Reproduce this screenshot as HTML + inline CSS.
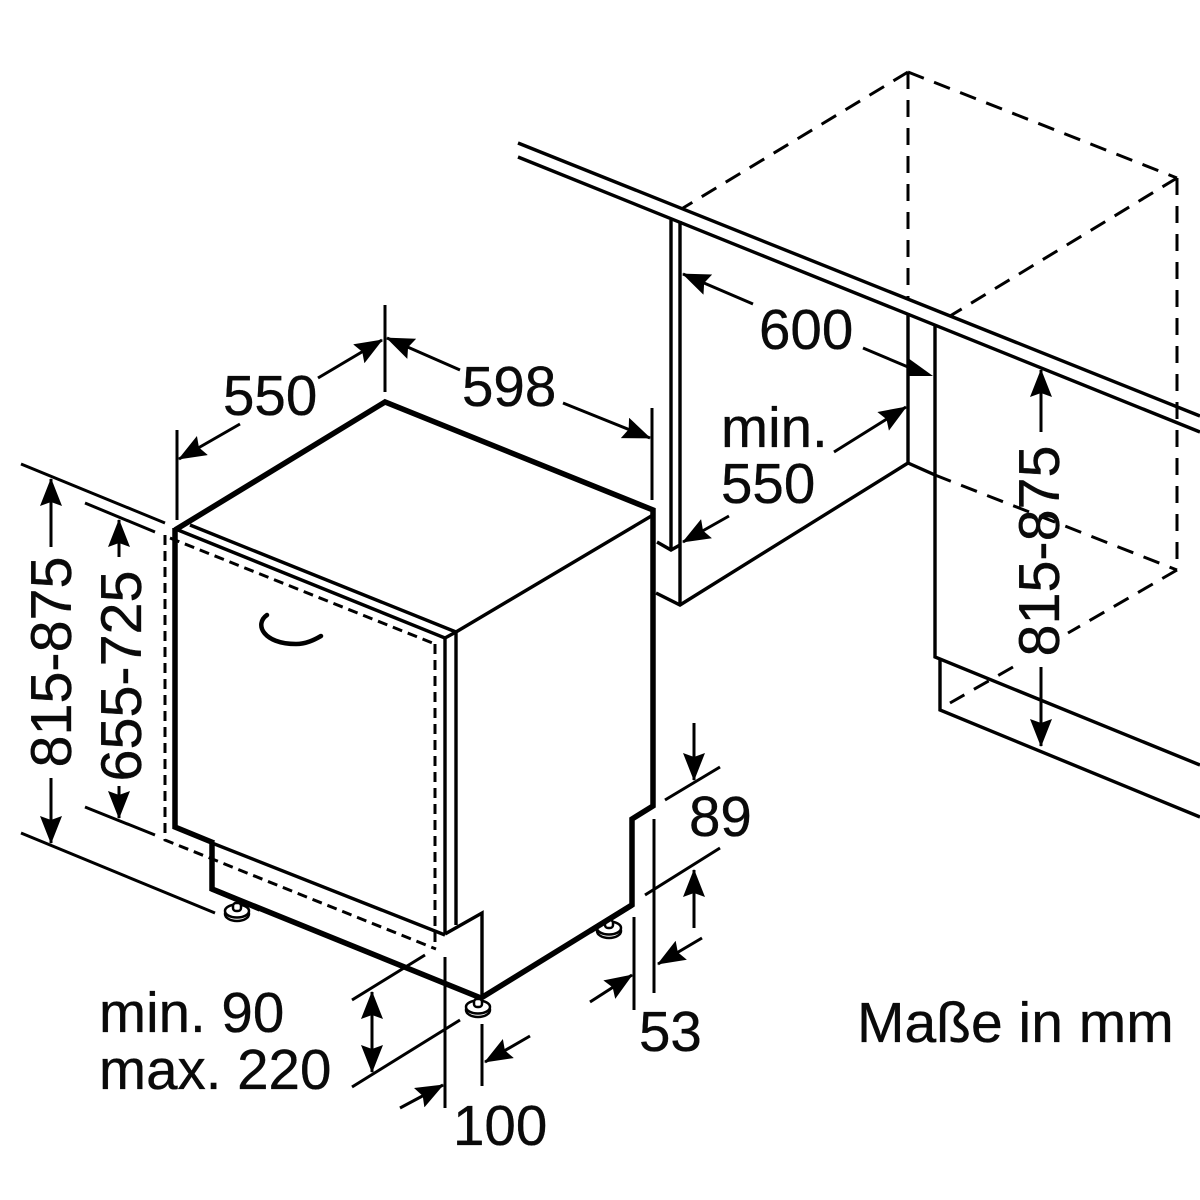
<!DOCTYPE html>
<html><head><meta charset="utf-8"><style>
html,body{margin:0;padding:0;background:#fff}
svg{display:block}
text{font-family:"Liberation Sans",sans-serif;font-size:56.5px;fill:#0a0a0a;stroke:#0a0a0a;stroke-width:.35}
</style></head><body>
<svg width="1200" height="1200" viewBox="0 0 1200 1200" xmlns="http://www.w3.org/2000/svg">
<defs>
<marker id="a" markerUnits="userSpaceOnUse" markerWidth="30" markerHeight="24" refX="27" refY="11" orient="auto"><path d="M0,0 L28,11 L0,22 L4,11 Z" fill="#000"/></marker>
<marker id="s" markerUnits="userSpaceOnUse" markerWidth="30" markerHeight="24" refX="27" refY="11" orient="auto-start-reverse"><path d="M0,0 L28,11 L0,22 L4,11 Z" fill="#000"/></marker>
</defs>
<rect width="1200" height="1200" fill="#fff"/>

<!-- right cabinet dashed -->
<g fill="none" stroke="#000" stroke-width="3" stroke-dasharray="17 11">
<path d="M908,72 L683,208"/>
<path d="M908,72 L1177,178"/>
<path d="M908,72 L908,299"/>
<path d="M1177,178 L950,316"/>
<path d="M1177,178 L1177,570"/>
<path d="M935,475 L1177,570"/>
<path d="M1177,570 L1068,633"/>
<path d="M1013,667 L950,703"/>
</g>

<!-- counter and niche -->
<g fill="none" stroke="#000" stroke-width="3.4">
<path d="M518,143 L1200,416"/>
<path d="M518,157 L1200,432"/>
<path d="M671,220 V548"/>
<path d="M680,221 V605"/>
<path d="M657,542 L671,550 L680,545"/>
<path d="M656,593 L680,605 L908,463 V313"/>
<path d="M908,463 L935,475"/>
<path d="M935,326 V657 L1200,765"/>
<path d="M940,660 V710 L1200,817"/>
</g>

<!-- appliance: dashed outline -->
<g fill="none" stroke="#000" stroke-width="3" stroke-dasharray="10 6">
<path d="M170,538 L435,644"/>
<path d="M165,535 V840 L436,949"/>
<path d="M435,644 V946"/>
</g>

<!-- appliance: thin -->
<g fill="none" stroke="#000" stroke-width="3.4">
<path d="M190,525 L456,632"/>
<path d="M178,530 L445,638"/>
<path d="M445,638 V933"/>
<path d="M456,632 V925"/>
<path d="M445,638 L456,632 L653,515"/>
<path d="M445,934 L482,913 V998"/>
<path d="M212,843 L445,935"/>
</g>

<!-- appliance: thick -->
<g fill="none" stroke="#000" stroke-width="5.5" stroke-linejoin="miter">
<path d="M175,530 L385,402 L653,510 V806 L632,819 V905 L481,998 L212,889 V843"/>
<path d="M175,528 V827 L214,843" />
</g>
<path d="M267,615 C254,624 263,644 296,644 C306,644 314,640 321,636" fill="none" stroke="#000" stroke-width="4.5" stroke-linecap="round"/>

<!-- feet -->
<g fill="#fff" stroke="#000" stroke-width="2.5">
<ellipse cx="237" cy="914" rx="12" ry="7"/><ellipse cx="237" cy="911" rx="12" ry="6.5"/><rect x="233" y="903" width="8" height="8" rx="3"/>
<ellipse cx="478" cy="1010" rx="12" ry="7"/><ellipse cx="478" cy="1007" rx="12" ry="6.5"/><rect x="474" y="999" width="8" height="8" rx="3"/>
<ellipse cx="609" cy="931" rx="12" ry="7"/><ellipse cx="609" cy="928" rx="12" ry="6.5"/><rect x="605" y="920" width="8" height="8" rx="3"/>
</g>
<path d="M212,889 L260,909" stroke="#000" stroke-width="5.5" fill="none"/>
<path d="M632,905 L590,931" stroke="#000" stroke-width="5.5" fill="none"/>

<!-- extension lines -->
<g fill="none" stroke="#000" stroke-width="3">
<path d="M21,464 L165,523"/>
<path d="M85,503 L155,532"/>
<path d="M21,833 L215,913"/>
<path d="M85,807 L155,835"/>
<path d="M385,305 V392"/>
<path d="M177,430 V520"/>
<path d="M652,408 V500"/>
<path d="M352,1000 L425,955"/>
<path d="M352,1087 L460,1020"/>
<path d="M445,957 V1108"/>
<path d="M482,1024 V1086"/>
<path d="M665,800 L720,767"/>
<path d="M645,895 L720,848"/>
<path d="M654,819 V993"/>
<path d="M634,917 V1010"/>
</g>

<!-- dimension arrows -->
<g fill="none" stroke="#000" stroke-width="3">
<path d="M51,547 V479" marker-end="url(#a)"/>
<path d="M51,778 V843" marker-end="url(#a)"/>
<path d="M119,557 V520" marker-end="url(#a)"/>
<path d="M119,786 V818" marker-end="url(#a)"/>
<path d="M240,424 L179,459" marker-end="url(#a)"/>
<path d="M318,378 L382,340" marker-end="url(#a)"/>
<path d="M460,370 L387,338" marker-end="url(#a)"/>
<path d="M563,403 L650,438" marker-end="url(#a)"/>
<path d="M753,304 L683,274" marker-end="url(#a)"/>
<path d="M863,348 L908,367"/>
<path d="M834,452 L906,407" marker-end="url(#a)"/>
<path d="M729,516 L683,542" marker-end="url(#a)"/>
<path d="M1041,432 V370" marker-end="url(#a)"/>
<path d="M1041,667 V746" marker-end="url(#a)"/>
<path d="M694,723 V780" marker-end="url(#a)"/>
<path d="M694,928 V870" marker-end="url(#a)"/>
<path d="M702,938 L658,964" marker-end="url(#a)"/>
<path d="M590,1002 L632,975" marker-end="url(#a)"/>
<path d="M372,992 V1072" marker-start="url(#s)" marker-end="url(#s)"/>
<path d="M400,1108 L443,1085" marker-end="url(#a)"/>
<path d="M530,1036 L485,1062" marker-end="url(#a)"/>
</g>
<polygon points="908,358 933,376 908,376" fill="#000"/>

<!-- labels -->
<text x="223" y="415">550</text>
<text x="462" y="406">598</text>
<text x="759" y="349">600</text>
<text x="721" y="447">min.</text>
<text x="721" y="503">550</text>
<text x="689" y="836">89</text>
<text x="639" y="1051">53</text>
<text x="453" y="1145">100</text>
<text x="99" y="1032">min. 90</text>
<text x="99" y="1089">max. 220</text>
<text x="857" y="1042" style="font-size:57px">Maße in mm</text>
<text transform="translate(71,662) rotate(-90)" text-anchor="middle" style="font-size:57.5px">815-875</text>
<text transform="translate(141,676) rotate(-90)" text-anchor="middle" style="font-size:57.5px">655-725</text>
<text transform="translate(1059,551) rotate(-90)" text-anchor="middle" style="font-size:57.5px">815-875</text>
</svg>
</body></html>
